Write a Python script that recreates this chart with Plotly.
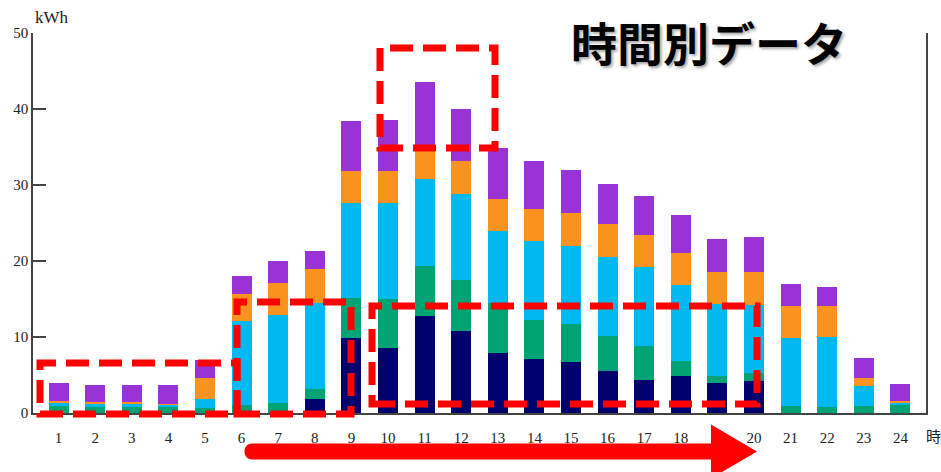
import plotly.graph_objects as go

# Hourly electricity use (kWh), stacked by category
hours = list(range(1, 25))
hour_labels = [str(h) for h in hours]

navy = [0, 0, 0, 0, 0, 0, 0, 1.9, 9.9, 8.5, 12.7, 10.8, 7.9, 7.05, 6.65, 5.55,
        4.4, 4.9, 3.95, 4.2, 0, 0, 0, 0]
green = [0.9, 0.85, 0.85, 0.8, 0.65, 1.0, 1.3, 1.2, 5.25, 6.5, 6.7, 6.7, 6.6, 5.25,
         5.05, 4.6, 4.45, 2.0, 0.95, 1.0, 0.97, 0.85, 0.97, 1.0]
cyan = [0.5, 0.45, 0.4, 0.3, 1.15, 11.1, 11.6, 11.4, 12.45, 12.6, 11.4, 11.35, 9.4,
        10.3, 10.3, 10.4, 10.3, 9.9, 9.4, 9.0, 8.95, 9.1, 2.6, 0.35]
orange = [0.2, 0.15, 0.15, 0.15, 2.8, 3.6, 4.2, 4.4, 4.2, 4.2, 4.25, 4.35, 4.3, 4.3,
          4.3, 4.35, 4.25, 4.3, 4.3, 4.3, 4.15, 4.15, 1.05, 0.2]
purple = [2.35, 2.3, 2.35, 2.4, 2.35, 2.3, 2.85, 2.4, 6.6, 6.75, 8.45, 6.8, 6.7, 6.2,
          5.7, 5.2, 5.15, 4.95, 4.3, 4.65, 2.85, 2.45, 2.6, 2.25]

series = [
    (navy, "#00006e"),
    (green, "#00a374"),
    (cyan, "#00b9f1"),
    (orange, "#f7931e"),
    (purple, "#9933d6"),
]

W, H = 941, 472
L, R, T, B = 33, 15, 33, 59
PW, PH = W - L - R, H - T - B


def px(x):
    return (x - L) / PW


def py(y):
    return (H - B - y) / PH


fig = go.Figure()
for vals, col in series:
    fig.add_trace(go.Bar(x=hours, y=vals, marker=dict(color=col, line=dict(width=0)),
                         width=0.55, showlegend=False, hoverinfo="y"))

serif = "Liberation Serif, Times New Roman, serif"
fig.update_layout(
    barmode="stack",
    width=W, height=H,
    margin=dict(l=L, r=R, t=T, b=B, pad=0),
    paper_bgcolor="white", plot_bgcolor="white",
    xaxis=dict(range=[0.3, 24.7], tickvals=hours, ticktext=hour_labels,
               showgrid=False, zeroline=False, showline=True, linecolor="#444",
               linewidth=1.5, ticks="", ticklabelstandoff=10,
               tickfont=dict(family=serif, size=15, color="#222")),
    yaxis=dict(range=[0, 50], tickvals=[0, 10, 20, 30, 40, 50], showgrid=False,
               zeroline=False, showline=True, mirror=True, linecolor="#444",
               linewidth=1.5, ticks="inside", ticklen=13, tickcolor="#444",
               tickwidth=1.5,
               tickfont=dict(family=serif, size=15, color="#222")),
)

# Axis unit labels
fig.add_annotation(x=px(33), y=py(17), xref="paper", yref="paper", text="kWh",
                   showarrow=False, xanchor="left", yanchor="middle",
                   font=dict(family=serif, size=17, color="#222"))
fig.add_annotation(x=px(933), y=py(435), xref="paper", yref="paper", text="時",
                   showarrow=False, xanchor="center", yanchor="middle",
                   font=dict(family="Noto Sans CJK JP", size=15, color="#222"))

# Heading
fig.add_annotation(x=px(709), y=py(41), xref="paper", yref="paper", text="<b>時間別データ</b>",
                   showarrow=False, xanchor="center", yanchor="middle",
                   font=dict(family="Noto Sans CJK JP", size=46, color="black",
                             shadow="2px 2px 3px rgba(0,0,0,0.35)"))

# Highlight boxes (dashed red)
boxes = [
    (40, 363, 237, 414),
    (237, 302, 351, 414),
    (372, 306, 757, 404),
    (380, 48, 495, 148),
]
for x0, y0, x1, y1 in boxes:
    fig.add_shape(type="rect", xref="paper", yref="paper",
                  x0=px(x0), x1=px(x1), y0=py(y1), y1=py(y0),
                  line=dict(color="#ff0000", width=7, dash="23px,10px"),
                  fillcolor="rgba(0,0,0,0)", layer="above")

# Time-flow arrow along the bottom
ax0, ax1, tip = 245, 711, 757
yc, half, head = 451.5, 8, 27
pts = [
    (ax0 + 7, yc - half), (ax1, yc - half), (ax1, yc - head), (tip, yc),
    (ax1, yc + head), (ax1, yc + half), (ax0 + 7, yc + half),
]
path = "M {:.5f},{:.5f}".format(px(pts[0][0]), py(pts[0][1]))
for xx, yy in pts[1:]:
    path += " L {:.5f},{:.5f}".format(px(xx), py(yy))
path += " C {:.5f},{:.5f} {:.5f},{:.5f} {:.5f},{:.5f} Z".format(
    px(ax0 - 3), py(yc + half), px(ax0 - 3), py(yc - half), px(pts[0][0]), py(pts[0][1]))
fig.add_shape(type="path", xref="paper", yref="paper", path=path,
              fillcolor="#ff0000", line=dict(width=0), layer="above")

fig.write_html("out.html")
